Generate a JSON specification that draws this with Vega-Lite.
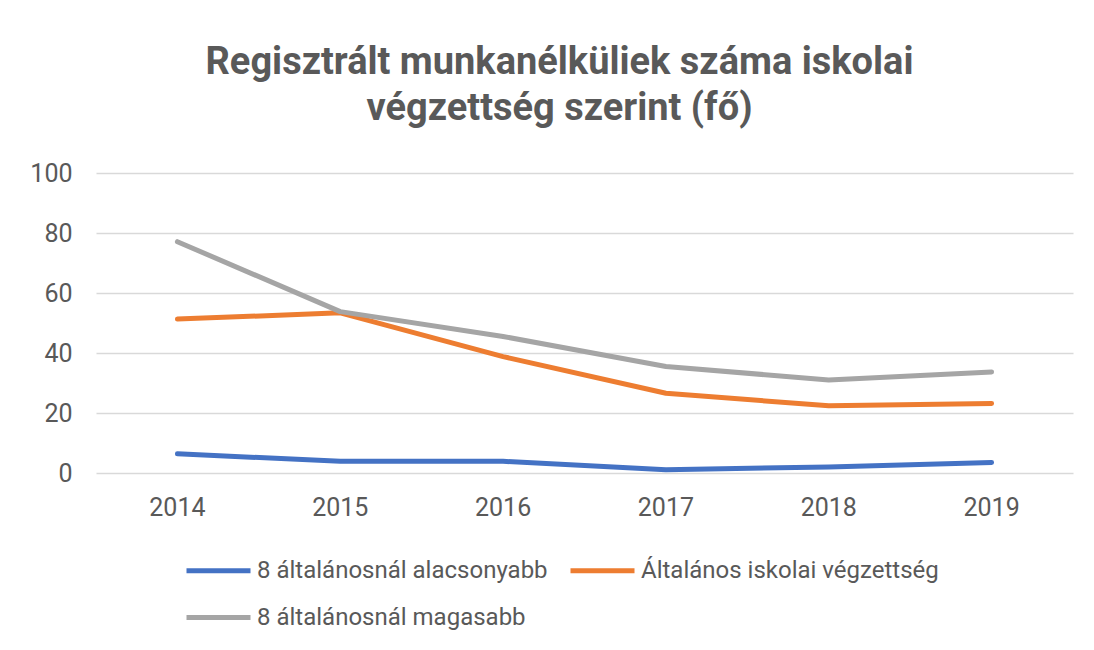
{
  "$schema": "https://vega.github.io/schema/vega-lite/v6.json",
  "width": 977,
  "height": 300,
  "autosize": {"type": "none"},
  "padding": {"left": 96, "top": 173, "right": 21, "bottom": 177},
  "background": "white",
  "title": {
    "text": ["Regisztrált munkanélküliek száma iskolai", "végzettség szerint (fő)"],
    "anchor": "middle",
    "frame": "group",
    "dx": -25,
    "offset": 33,
    "font": "Roboto",
    "fontSize": 38,
    "fontWeight": "bold",
    "color": "#595959",
    "lineHeight": 46
  },
  "data": {
    "values": [
      {"year": "2014", "series": "8 általánosnál alacsonyabb", "value": 6.4},
      {"year": "2015", "series": "8 általánosnál alacsonyabb", "value": 3.9},
      {"year": "2016", "series": "8 általánosnál alacsonyabb", "value": 3.9},
      {"year": "2017", "series": "8 általánosnál alacsonyabb", "value": 1.1},
      {"year": "2018", "series": "8 általánosnál alacsonyabb", "value": 2.0},
      {"year": "2019", "series": "8 általánosnál alacsonyabb", "value": 3.5},
      {"year": "2014", "series": "Általános iskolai végzettség", "value": 51.3},
      {"year": "2015", "series": "Általános iskolai végzettség", "value": 53.4},
      {"year": "2016", "series": "Általános iskolai végzettség", "value": 38.8},
      {"year": "2017", "series": "Általános iskolai végzettség", "value": 26.6},
      {"year": "2018", "series": "Általános iskolai végzettség", "value": 22.4},
      {"year": "2019", "series": "Általános iskolai végzettség", "value": 23.2},
      {"year": "2014", "series": "8 általánosnál magasabb", "value": 77.1},
      {"year": "2015", "series": "8 általánosnál magasabb", "value": 53.8},
      {"year": "2016", "series": "8 általánosnál magasabb", "value": 45.5},
      {"year": "2017", "series": "8 általánosnál magasabb", "value": 35.5},
      {"year": "2018", "series": "8 általánosnál magasabb", "value": 31.0},
      {"year": "2019", "series": "8 általánosnál magasabb", "value": 33.7}
    ]
  },
  "mark": {"type": "line", "strokeWidth": 5, "strokeCap": "round", "strokeJoin": "round"},
  "encoding": {
    "x": {
      "field": "year",
      "type": "ordinal",
      "scale": {"type": "band", "paddingInner": 0, "paddingOuter": 0},
      "axis": {
        "title": null,
        "labelAngle": 0,
        "domain": false,
        "ticks": false,
        "grid": false,
        "labelPadding": 22,
        "labelFontSize": 25,
        "labelFont": "Roboto",
        "labelColor": "#595959"
      }
    },
    "y": {
      "field": "value",
      "type": "quantitative",
      "scale": {"domain": [0, 100], "nice": false},
      "axis": {
        "title": null,
        "values": [0, 20, 40, 60, 80, 100],
        "domain": false,
        "ticks": false,
        "gridColor": "#D9D9D9",
        "gridWidth": 1.5,
        "labelPadding": 24,
        "labelFontSize": 25,
        "labelFont": "Roboto",
        "labelColor": "#595959"
      }
    },
    "color": {
      "field": "series",
      "type": "nominal",
      "scale": {
        "domain": ["8 általánosnál alacsonyabb", "Általános iskolai végzettség", "8 általánosnál magasabb"],
        "range": ["#4472C4", "#ED7D31", "#A5A5A5"]
      },
      "legend": {
        "title": null,
        "orient": "none",
        "legendX": 88,
        "legendY": 363,
        "direction": "horizontal",
        "columns": 2,
        "columnPadding": 12,
        "rowPadding": -15,
        "symbolType": "stroke",
        "symbolSize": 4096,
        "symbolStrokeWidth": 5,
        "labelOffset": 4,
        "labelFontSize": 24,
        "labelFont": "Roboto",
        "labelColor": "#595959",
        "labelLimit": 400
      }
    }
  },
  "config": {"view": {"stroke": null}}
}
